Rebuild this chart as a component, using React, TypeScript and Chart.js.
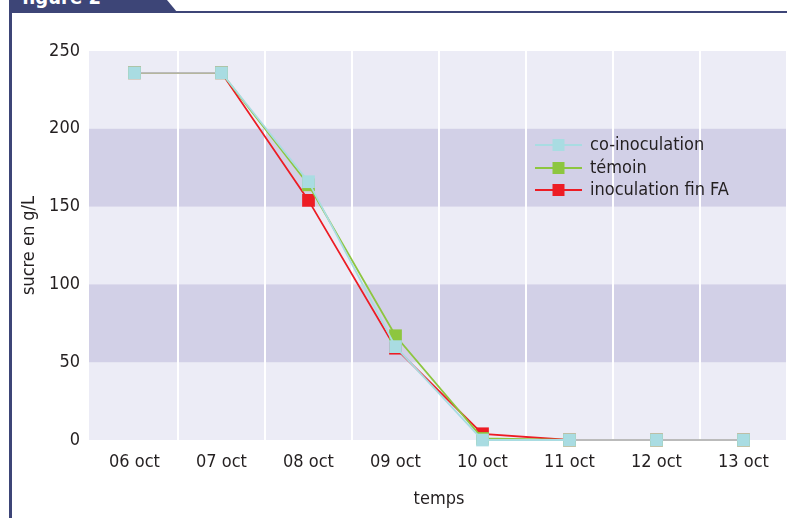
import React, { useEffect, useRef } from 'react';
import { Chart, registerables } from 'chart.js';

Chart.register(...registerables);

const categories = ['06 oct', '07 oct', '08 oct', '09 oct', '10 oct', '11 oct', '12 oct', '13 oct'];
const coInoculation = [236, 236, 166, 60, 0, 0, 0, 0];
const temoin = [236, 236, 164, 67, 1, 0, 0, 0];
const inoculationFinFA = [236, 236, 154, 59, 4, 0, 0, 0];
const seriesNames = ['co-inoculation', 'témoin', 'inoculation fin FA'];
const seriesValues = [coInoculation, temoin, inoculationFinFA];
const seriesColors = ['#A9DCE2', '#8DC63F', '#ED1C24'];
const darkBands = [[50, 100], [150, 200]];
const yMin = 0;
const yMax = 250;
const yStep = 50;

const NAVY = '#3D4577';
const TEXT = '#231F20';
const FONT = '"Liberation Sans Narrow", "DejaVu Sans Condensed", "Liberation Sans", sans-serif';
const LIGHT_BAND = '#ECECF6';
const DARK_BAND = '#D2D0E7';
const OVERLAP = '#BBBBBB';
const BAND_EXTRA_LEFT = 2;

const bandsPlugin = {
  id: 'bands',
  beforeDraw(chart: any) {
    const { ctx, chartArea } = chart;
    const y = chart.scales.y;
    const left = chartArea.left - BAND_EXTRA_LEFT;
    const w = chartArea.right - left;
    ctx.save();
    ctx.fillStyle = LIGHT_BAND;
    ctx.fillRect(left, chartArea.top, w, chartArea.bottom - chartArea.top);
    ctx.fillStyle = DARK_BAND;
    for (const [lo, hi] of darkBands) {
      const yt = y.getPixelForValue(hi);
      const yb = y.getPixelForValue(lo);
      ctx.fillRect(left, yt, w, yb - yt);
    }
    ctx.restore();
  },
};

const legendPlugin = {
  id: 'customLegend',
  afterDatasetsDraw(chart: any) {
    const { ctx } = chart;
    const x0 = 523;
    const x1 = 570;
    const xc = (x0 + x1) / 2;
    const rows = [132, 155, 177];
    ctx.save();
    seriesNames.forEach((name, i) => {
      const yy = rows[i];
      ctx.strokeStyle = seriesColors[i];
      ctx.lineWidth = 2;
      ctx.beginPath();
      ctx.moveTo(x0, yy);
      ctx.lineTo(x1, yy);
      ctx.stroke();
      ctx.fillStyle = seriesColors[i];
      ctx.fillRect(xc - 6, yy - 6, 12, 12);
      ctx.fillStyle = TEXT;
      ctx.font = `18px ${FONT}`;
      ctx.textAlign = 'left';
      ctx.textBaseline = 'middle';
      ctx.fillText(name, 578, yy);
    });
    ctx.restore();
  },
};

function allEqual(i: number) {
  const v = seriesValues[0][i];
  return seriesValues.every((s) => s[i] === v);
}

export default function App() {
  const ref = useRef<HTMLCanvasElement>(null);

  useEffect(() => {
    const chart = new Chart(ref.current as HTMLCanvasElement, {
      type: 'line',
      data: {
        labels: categories,
        datasets: seriesNames.map((name, i) => ({
          label: name,
          data: seriesValues[i],
          borderColor: seriesColors[i],
          backgroundColor: seriesColors[i],
          borderWidth: 1.8,
          pointStyle: 'rect',
          pointRadius: 9,
          pointBorderWidth: 0,
          pointHoverRadius: 9,
          tension: 0,
          clip: false,
          segment: i === 0 ? {
            borderColor: (c: any) => (allEqual(c.p0DataIndex) && allEqual(c.p1DataIndex) ? OVERLAP : undefined),
          } : undefined,
        })) as any,
      },
      options: {
        responsive: false,
        animation: false,
        events: [],
        layout: { autoPadding: false, padding: { top: 38, right: 0, left: 0, bottom: 0 } },
        plugins: { legend: { display: false }, tooltip: { enabled: false } },
        scales: {
          x: {
            offset: true,
            grid: {
              offset: true,
              drawTicks: false,
              lineWidth: 2,
              color: (c: any) => (c.index === 0 || c.index === categories.length ? 'rgba(0,0,0,0)' : '#FFFFFF'),
            },
            border: { display: false },
            ticks: { color: TEXT, font: { family: FONT, size: 18 }, padding: 12 },
            title: { display: true, text: 'temps', color: TEXT, font: { family: FONT, size: 18 }, padding: { top: 0, bottom: 8 } },
            afterFit: (s: any) => { s.height = 78; s.paddingLeft = 0; s.paddingRight = 0; },
          },
          y: {
            min: yMin,
            max: yMax,
            grid: { display: false, drawTicks: false },
            border: { display: false },
            ticks: { stepSize: yStep, color: TEXT, font: { family: FONT, size: 18 }, padding: 11 },
            title: { display: true, text: 'sucre en g/L', color: TEXT, font: { family: FONT, size: 18 }, padding: { top: 7, bottom: 0 } },
            afterFit: (s: any) => { s.width = 79; s.paddingTop = 0; s.paddingBottom = 0; },
          },
        },
      },
      plugins: [bandsPlugin, legendPlugin],
    });
    return () => chart.destroy();
  }, []);

  return (
    <div style={{ position: 'fixed', left: 0, top: 0, width: 787, height: 518, background: '#fff', overflow: 'hidden' }}>
      <div style={{ position: 'absolute', left: 9, top: 0, width: 3, height: 518, background: NAVY }} />
      <div style={{ position: 'absolute', left: 9, top: 11, width: 778, height: 2, background: NAVY }} />
      <div
        style={{
          position: 'absolute', left: 9, top: 0, width: 168, height: 12, background: NAVY,
          clipPath: 'polygon(0 0, 158px 0, 168px 12px, 0 12px)', overflow: 'hidden',
        }}
      >
        <span style={{ position: 'absolute', left: 13, top: -13, fontFamily: FONT, fontWeight: 'bold', fontSize: 20, lineHeight: 1, color: '#fff', whiteSpace: 'nowrap' }}>
          figure 2
        </span>
      </div>
      <div style={{ position: 'absolute', left: 12, top: 13, width: 775, height: 505 }}>
        <canvas ref={ref} width={775} height={505} style={{ display: 'block' }} />
      </div>
    </div>
  );
}
